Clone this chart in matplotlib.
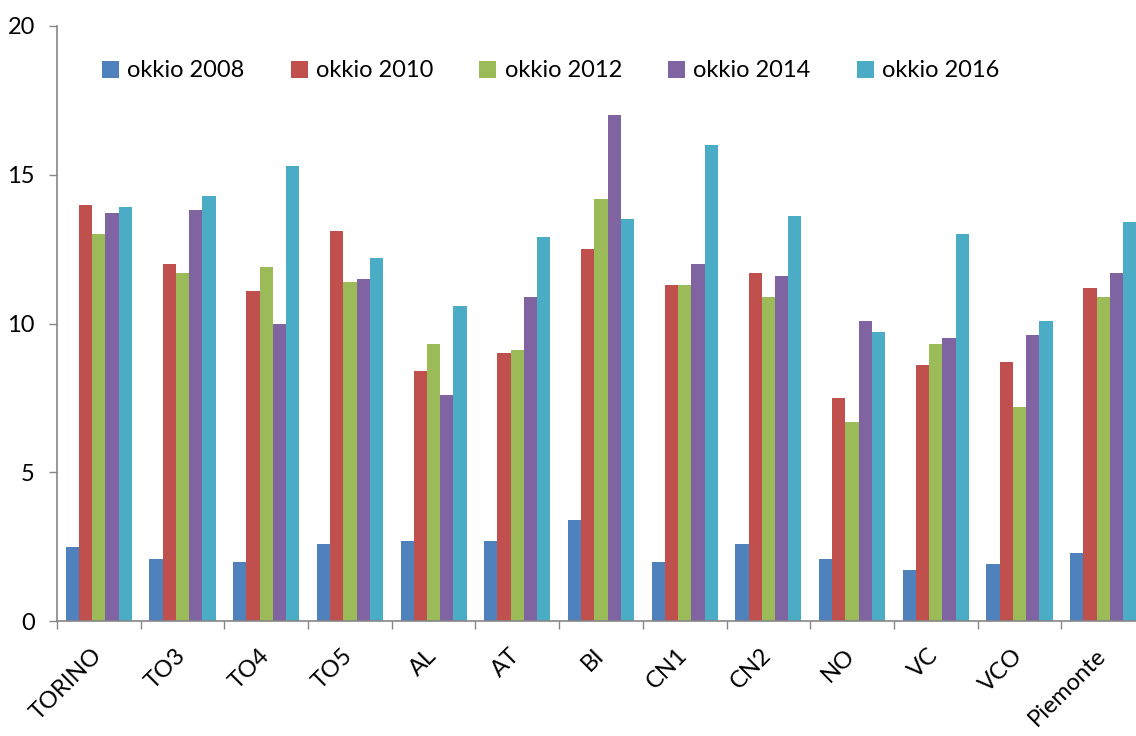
import matplotlib
matplotlib.use("Agg")
import matplotlib.pyplot as plt
import matplotlib.transforms as mtransforms
import numpy as np

categories = ["TORINO", "TO3", "TO4", "TO5", "AL", "AT", "BI", "CN1", "CN2", "NO", "VC", "VCO", "Piemonte"]
series_names = ["okkio 2008", "okkio 2010", "okkio 2012", "okkio 2014", "okkio 2016"]
okkio_2008 = [2.5, 2.1, 2.0, 2.6, 2.7, 2.7, 3.4, 2.0, 2.6, 2.1, 1.7, 1.9, 2.3]
okkio_2010 = [14.0, 12.0, 11.1, 13.1, 8.4, 9.0, 12.5, 11.3, 11.7, 7.5, 8.6, 8.7, 11.2]
okkio_2012 = [13.0, 11.7, 11.9, 11.4, 9.3, 9.1, 14.2, 11.3, 10.9, 6.7, 9.3, 7.2, 10.9]
okkio_2014 = [13.7, 13.8, 10.0, 11.5, 7.6, 10.9, 17.0, 12.0, 11.6, 10.1, 9.5, 9.6, 11.7]
okkio_2016 = [13.9, 14.3, 15.3, 12.2, 10.6, 12.9, 13.5, 16.0, 13.6, 9.7, 13.0, 10.1, 13.4]
yticks = [0, 5, 10, 15, 20]

colors = ["#4F81BD", "#C0504D", "#9BBB59", "#8064A2", "#4BACC6"]
series = [okkio_2008, okkio_2010, okkio_2012, okkio_2014, okkio_2016]

plt.rcParams['font.family'] = ['Lato', 'DejaVu Sans']

fig = plt.figure(figsize=(11.36, 7.36), dpi=100)
ax = fig.add_axes([57/1136, 115/736, 1088/1136, 595/736])

n = len(categories)
x = np.arange(n)
bw = 0.158
for i, (s, c, name) in enumerate(zip(series, colors, series_names)):
    ax.bar(x + (i - 2) * bw, s, width=bw, color=c, label=name, linewidth=0)

ax.set_xlim(-0.5, n - 0.5)
ax.set_ylim(0, 20)
ax.set_yticks(yticks)
ax.set_yticklabels([str(v) for v in yticks], fontsize=17)
ax.tick_params(axis='y', length=6, width=1, color='#868686', pad=10)

ax.set_xticks(np.arange(n + 1) - 0.5)
ax.set_xticklabels([])
ax.tick_params(axis='x', which='major', length=6, width=1, color='#868686', direction='out')
ax.set_xticks(x, minor=True)
ax.set_xticklabels(categories, minor=True, rotation=45, ha='right', va='top',
                   rotation_mode='anchor', fontsize=17)
ax.tick_params(axis='x', which='minor', length=0, pad=17)
offset = mtransforms.ScaledTranslation(-8 / 100, 0, fig.dpi_scale_trans)
for lbl in ax.get_xticklabels(minor=True):
    lbl.set_transform(lbl.get_transform() + offset)

for sp in ['top', 'right']:
    ax.spines[sp].set_visible(False)
for sp in ['left', 'bottom']:
    ax.spines[sp].set_color('#868686')
    ax.spines[sp].set_linewidth(1.2)

ax.legend(loc='upper left', bbox_to_anchor=(0.022, 0.978), ncol=5, frameon=False,
          fontsize=17, handlelength=0.72, handleheight=0.72, handletextpad=0.35,
          columnspacing=1.95)

fig.savefig("out.png", dpi=100)
